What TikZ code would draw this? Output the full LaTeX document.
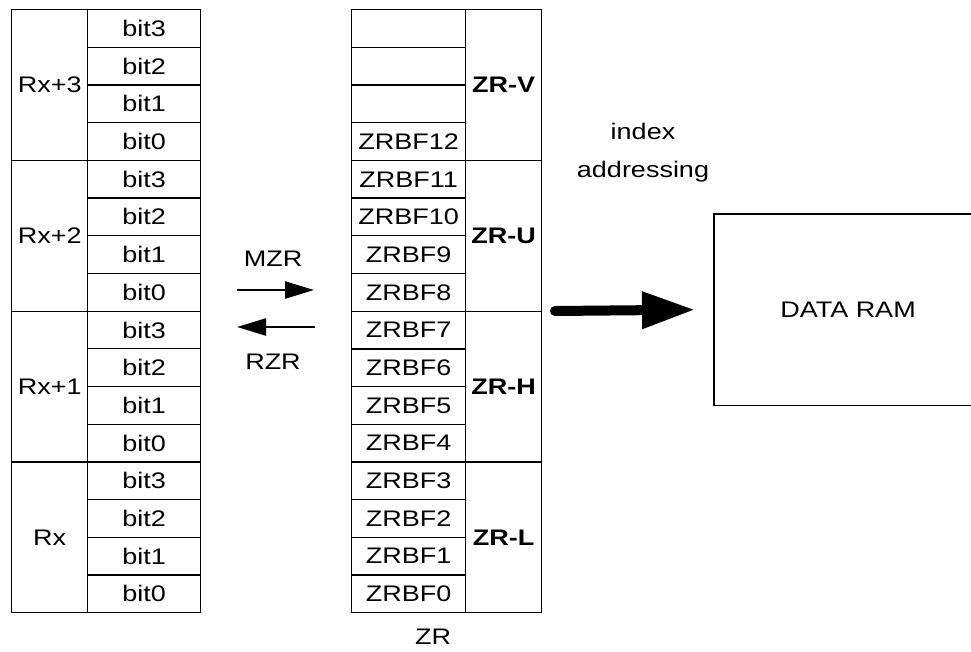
\documentclass[tikz,border=0pt]{standalone}
\usepackage{fontspec}
\setmainfont[FakeStretch=1.2]{Liberation Sans}
\usetikzlibrary{arrows.meta}
\newcommand{\fs}{\fontsize{22.5}{38}\selectfont}
\begin{document}
\begin{tikzpicture}[x=1pt,y=-1pt,
  txt/.style={font=\fs, inner sep=0pt},
  cell/.style={draw, line width=1.3pt, minimum height=37.69pt, inner sep=0pt, anchor=north west, font=\fs},
  grp/.style={draw, line width=1.3pt, minimum height=150.75pt, inner sep=0pt, anchor=north west, font=\fs},
  thin/.style={line width=2.6pt, -{Triangle[length=29pt,width=17pt]}},
  thick/.style={line width=10pt, line cap=round, -{Triangle[length=53pt,width=35pt]}}]
\useasboundingbox (0,0) rectangle (971,651);
% left table
\foreach \g/\lab in {0/Rx+3,1/Rx+2,2/Rx+1,3/Rx} {
  \node[grp, minimum width=76pt] (R\g) at (11, {9+150.75*\g}) {\lab};
  \foreach \r/\b in {0/3,1/2,2/1,3/0} {
    \node[cell, minimum width=113pt] (R\g b\r) at (87, {9+150.75*\g+37.69*\r}) {bit\b};
  }
}
% middle table
\foreach \i/\t in {0/{},1/{},2/{},3/ZRBF12,4/ZRBF11,5/ZRBF10,6/ZRBF9,7/ZRBF8,8/ZRBF7,9/ZRBF6,10/ZRBF5,11/ZRBF4,12/ZRBF3,13/ZRBF2,14/ZRBF1,15/ZRBF0} {
  \node[cell, minimum width=114pt] (Z\i) at (351, {9+37.69*\i}) {\t};
}
\foreach \g/\lab in {0/ZR-V,1/ZR-U,2/ZR-H,3/ZR-L} {
  \node[grp, minimum width=76pt, font=\fs\bfseries] (G\g) at (465, {9+150.75*\g}) {\lab};
}
\node[txt] (zr) at (433,637) {ZR};
% MZR / RZR
\node[txt] (mzr) at (273,259) {MZR};
\node[txt] (rzr) at (273,362) {RZR};
\coordinate (m1) at (237,290);
\coordinate (m2) at (314,290);
\coordinate (r1) at (315,327);
\coordinate (r2) at (237,327);
\draw[thin] (m1) -- (m2);
\draw[thin] (r1) -- (r2);
% index addressing
\node[txt, align=center] (idx) at (643,153) {index\\addressing};
% DATA RAM
\node[txt, minimum width=257pt, minimum height=191pt, anchor=north west] (ram) at (714,214) {};
\node[txt] (ramlab) at (848,310) {DATA RAM};
\draw[line width=1.3pt] (ram.north east) -- (ram.north west) -- (ram.south west) -- (ram.south east);
\coordinate (a1) at (555,311);
\draw[thick] (a1) -- (ram.west -| 695,0);
\end{tikzpicture}
\end{document}
